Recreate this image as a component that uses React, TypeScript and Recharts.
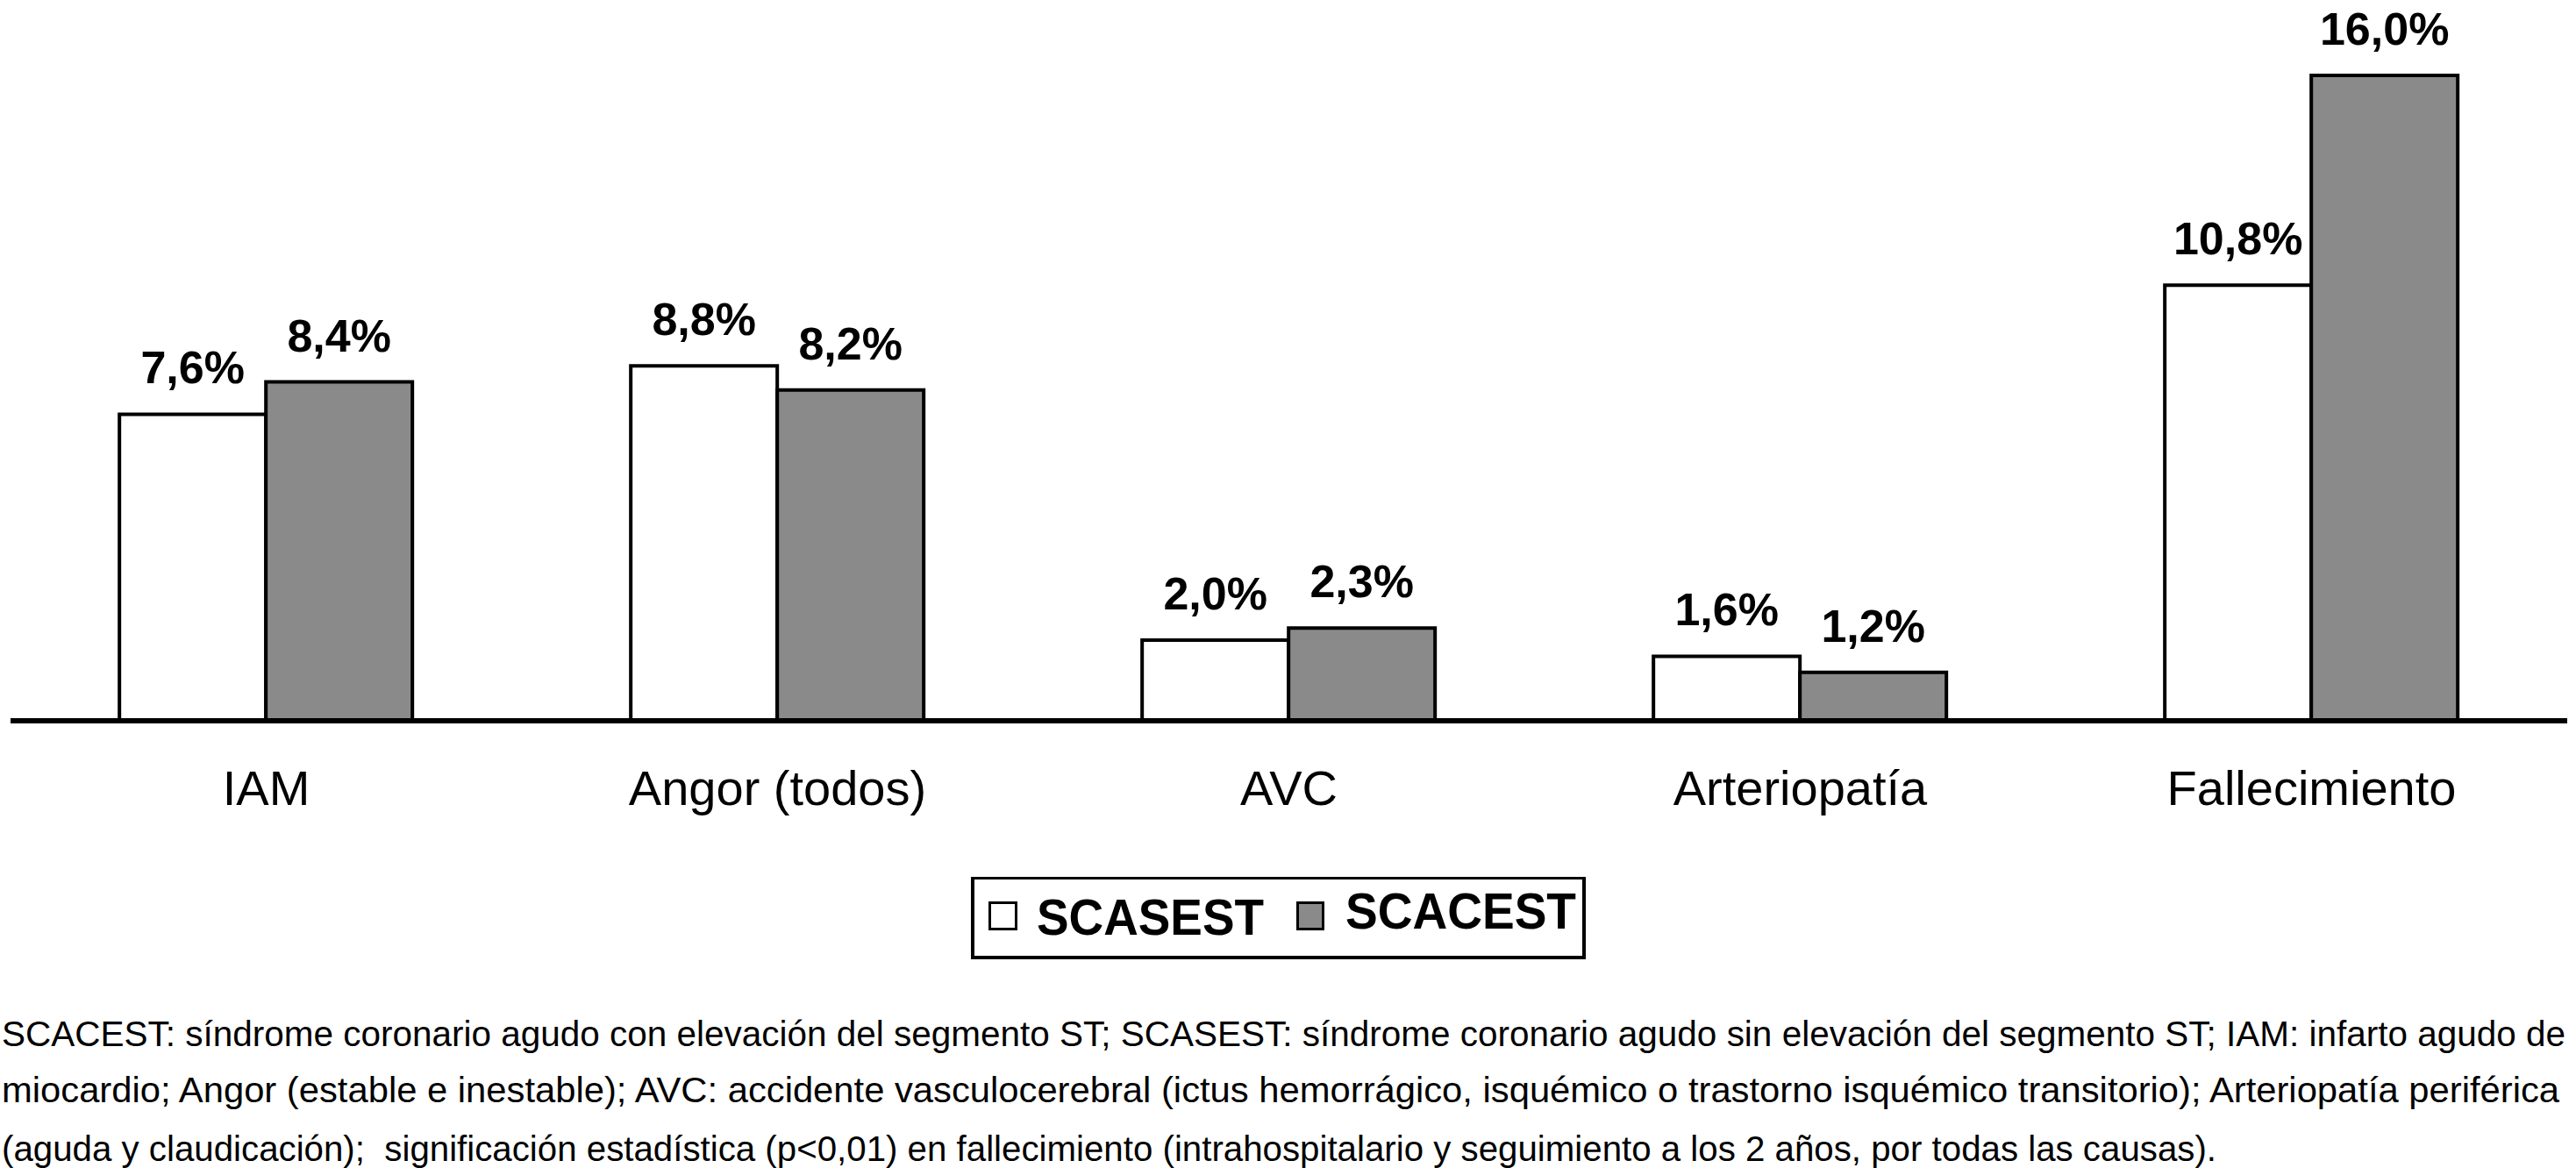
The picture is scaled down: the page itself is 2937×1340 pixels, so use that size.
import React from 'react';
import { BarChart, Bar, XAxis, YAxis, LabelList } from 'recharts';

const categories = ['IAM', 'Angor (todos)', 'AVC', 'Arteriopatía', 'Fallecimiento'];
const scasestValues = [7.6, 8.8, 2.0, 1.6, 10.8];
const scacestValues = [8.4, 8.2, 2.3, 1.2, 16.0];
const seriesNames = ['SCASEST', 'SCACEST'];
const seriesColors = ['#ffffff', '#8a8a8a'];
const footnoteLines = [
  'SCACEST: síndrome coronario agudo con elevación del segmento ST; SCASEST: síndrome coronario agudo sin elevación del segmento ST; IAM: infarto agudo de',
  'miocardio; Angor (estable e inestable); AVC: accidente vasculocerebral (ictus hemorrágico, isquémico o trastorno isquémico transitorio); Arteriopatía periférica',
  '(aguda y claudicación);  significación estadística (p<0,01) en fallecimiento (intrahospitalario y seguimiento a los 2 años, por todas las causas).',
];

const data = categories.map((c, i) => ({
  name: c,
  SCASEST: scasestValues[i],
  SCACEST: scacestValues[i],
}));

const FONT = '"Liberation Sans", Arial, Helvetica, sans-serif';
const W = 2937;
const H = 1340;
const CHART_H = 1000;
const AXIS_Y = 822;
const XAXIS_H = 120;

const fmt = (v: any) => Number(v).toFixed(1).replace('.', ',') + '%';

const Tick = (props: any) => {
  const { x, y, payload } = props;
  return (
    <text x={x} y={y + 96} textAnchor="middle" fontFamily={FONT} fontSize={56} fill="#000">
      {payload.value}
    </text>
  );
};

export default function App() {
  return (
    <div style={{ position: 'absolute', left: 0, top: 0, width: W, height: H, background: '#fff' }}>
      <BarChart
        width={W}
        height={CHART_H}
        data={data}
        margin={{ top: 86, right: 10, left: 12, bottom: CHART_H - AXIS_Y - XAXIS_H }}
        barCategoryGap="21.3%"
        barGap={0}
      >
        <XAxis
          dataKey="name"
          height={XAXIS_H}
          tickLine={false}
          tickSize={0}
          tickMargin={0}
          axisLine={{ stroke: '#000', strokeWidth: 6 }}
          tick={<Tick />}
          interval={0}
        />
        <YAxis hide domain={[0, 16]} width={0} />
        {seriesNames.map((s, i) => (
          <Bar
            key={s}
            dataKey={s}
            fill={seriesColors[i]}
            stroke="#000"
            strokeWidth={4}
            isAnimationActive={false}
          >
            <LabelList
              dataKey={s}
              position="top"
              offset={35}
              formatter={fmt}
              style={{ fontFamily: FONT, fontSize: 52, fontWeight: 'bold', fill: '#000' }}
            />
          </Bar>
        ))}
      </BarChart>
      <svg
        width={W}
        height={H - CHART_H}
        style={{ position: 'absolute', left: 0, top: CHART_H }}
      >
        <g transform={`translate(0, ${-CHART_H})`}>
          <rect x={1109} y={1001} width={697} height={91} fill="#fff" stroke="#000" strokeWidth={4} />
          <rect x={1128.5} y={1029.5} width={30} height={30} fill={seriesColors[0]} stroke="#000" strokeWidth={3} />
          <text x={1182} y={1066} fontFamily={FONT} fontWeight="bold" fontSize={58} textLength={259} lengthAdjust="spacingAndGlyphs" fill="#000">
            {seriesNames[0]}
          </text>
          <rect x={1479.5} y={1029.5} width={29} height={30} fill={seriesColors[1]} stroke="#000" strokeWidth={3} />
          <text x={1534} y={1059} fontFamily={FONT} fontWeight="bold" fontSize={58} textLength={263} lengthAdjust="spacingAndGlyphs" fill="#000">
            {seriesNames[1]}
          </text>
          {footnoteLines.map((line, i) => (
            <text
              key={i}
              x={2}
              y={[1193, 1257, 1324][i]}
              fontFamily={FONT}
              fontSize={40}
              fill="#000"
              textLength={[2923, 2916, 2525][i]}
              lengthAdjust="spacingAndGlyphs"
              style={{ whiteSpace: 'pre' }}
            >
              {line}
            </text>
          ))}
        </g>
      </svg>
    </div>
  );
}
